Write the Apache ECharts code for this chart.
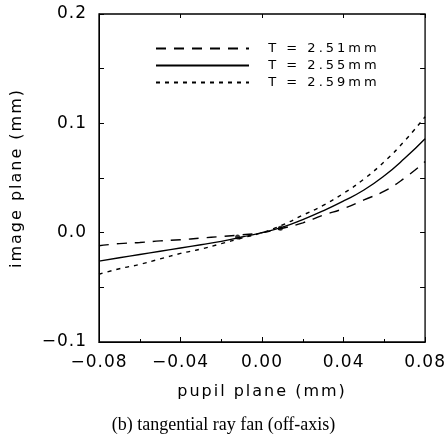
<!DOCTYPE html>
<html>
<head>
<meta charset="utf-8">
<script src="https://cdn.jsdelivr.net/npm/echarts@6/dist/echarts.min.js"></script>
<style>
  html, body { margin: 0; padding: 0; background: #fff; }
  #chart { width: 447px; height: 440px; }
</style>
</head>
<body>
<div id="chart"></div>
<script>
// pupil plane coordinate (mm)
const pupil = [-0.08, -0.07, -0.06, -0.05, -0.04, -0.03, -0.02, -0.01, 0, 0.01, 0.02, 0.03, 0.04, 0.05, 0.06, 0.07, 0.08]
const seriesNames = ['T = 2.51mm', 'T = 2.55mm', 'T = 2.59mm']
const t251 = [-0.012, -0.010, -0.009, -0.0075, -0.0065, -0.005, -0.0035, -0.002, 0, 0.004, 0.009, 0.016, 0.022, 0.030, 0.038, 0.050, 0.065]
const t255 = [-0.026, -0.023, -0.020, -0.017, -0.014, -0.011, -0.008, -0.004, 0, 0.005, 0.012, 0.020, 0.029, 0.039, 0.052, 0.068, 0.086]
const t259 = [-0.038, -0.033, -0.029, -0.024, -0.019, -0.015, -0.010, -0.005, 0, 0.007, 0.016, 0.025, 0.036, 0.049, 0.065, 0.084, 0.106]
// small dots drawn on the curves near the centre
const dotX = [-0.012, 0.009]
const dotY = [-0.004, 0.004]
const caption = '(b) tangential ray fan (off-axis)'

// the old plotter font is widely spaced: add canvas letter spacing by font size
const spacingBySize = { '17px': '1px', '16px': '2px', '13px': '3px' }
const origFillText = CanvasRenderingContext2D.prototype.fillText
CanvasRenderingContext2D.prototype.fillText = function (text, x, y, maxWidth) {
  const size = (this.font.match(/\d+px/) || [''])[0]
  const prev = this.letterSpacing
  this.letterSpacing = spacingBySize[size] || '0px'
  if (maxWidth === undefined) origFillText.call(this, text, x, y)
  else origFillText.call(this, text, x, y, maxWidth)
  this.letterSpacing = prev
}

const pairs = (ys) => pupil.map((x, i) => [x, ys[i]])
const minus = (s) => s.replace('-', '\u2212')

const chart = echarts.init(document.getElementById('chart'))

const lineSeries = (name, data, type) => ({
  name,
  type: 'line',
  data: pairs(data),
  symbol: 'none',
  smooth: true,
  lineStyle: { color: '#000', width: 1.4, type },
  itemStyle: { color: '#000' },
})

const tickFont = { fontFamily: 'DejaVu Sans', fontSize: 17, color: '#000' }
const nameFont = { fontFamily: 'DejaVu Sans', fontSize: 16, color: '#000' }

chart.setOption({
  animation: false,
  title: {
    text: caption,
    left: 'center',
    top: 411,
    textStyle: { fontFamily: 'Liberation Serif', fontSize: 18, fontWeight: 'normal', color: '#000' },
  },
  grid: { left: 99, right: 20, top: 14, bottom: 98, show: true, borderColor: '#000', borderWidth: 1.3 },
  legend: {
    data: seriesNames,
    orient: 'vertical',
    left: 150,
    top: 37,
    itemWidth: 93,
    itemHeight: 14,
    itemGap: 4,
    selectedMode: false,
    itemStyle: { opacity: 0 },
    formatter: (name) => '  ' + name,
    textStyle: { fontFamily: 'DejaVu Sans', fontSize: 13, color: '#000' },
  },
  xAxis: [
    {
      type: 'value',
      min: -0.08,
      max: 0.08,
      interval: 0.04,
      name: 'pupil plane (mm)',
      nameLocation: 'middle',
      nameGap: 42,
      nameTextStyle: nameFont,
      axisLine: { onZero: false, lineStyle: { color: '#000' } },
      axisTick: { inside: true, length: 5, lineStyle: { color: '#000' } },
      minorTick: { show: true, splitNumber: 2, length: 3, lineStyle: { color: '#000' } },
      axisLabel: { ...tickFont, margin: 12, formatter: (v) => minus(v.toFixed(2)) },
      splitLine: { show: false },
    },
    {
      type: 'value',
      position: 'top',
      min: -0.08,
      max: 0.08,
      interval: 0.04,
      axisLine: { show: false, onZero: false },
      axisTick: { inside: true, length: 4, lineStyle: { color: '#000' } },
      axisLabel: { show: false },
      splitLine: { show: false },
    },
  ],
  yAxis: [
    {
      type: 'value',
      min: -0.1,
      max: 0.2,
      interval: 0.1,
      name: 'image plane (mm)',
      nameLocation: 'middle',
      nameGap: 74,
      nameTextStyle: nameFont,
      axisLine: { onZero: false, lineStyle: { color: '#000' } },
      axisTick: { inside: true, length: 5, lineStyle: { color: '#000' } },
      minorTick: { show: true, splitNumber: 2, length: 5, lineStyle: { color: '#000' } },
      axisLabel: { ...tickFont, margin: 12, formatter: (v) => minus(v.toFixed(1)) },
      splitLine: { show: false },
    },
    {
      type: 'value',
      position: 'right',
      min: -0.1,
      max: 0.2,
      interval: 0.1,
      axisLine: { show: false, onZero: false },
      axisTick: { inside: true, length: 5, lineStyle: { color: '#000' } },
      minorTick: { show: true, splitNumber: 2, length: 5, lineStyle: { color: '#000' } },
      axisLabel: { show: false },
      splitLine: { show: false },
    },
  ],
  series: [
    lineSeries(seriesNames[0], t251, [10, 8]),
    lineSeries(seriesNames[1], t255, 'solid'),
    lineSeries(seriesNames[2], t259, [4, 5]),
    {
      type: 'scatter',
      data: dotX.map((x, i) => [x, dotY[i]]),
      symbolSize: 5,
      itemStyle: { color: '#000' },
    },
  ],
})
</script>
</body>
</html>
